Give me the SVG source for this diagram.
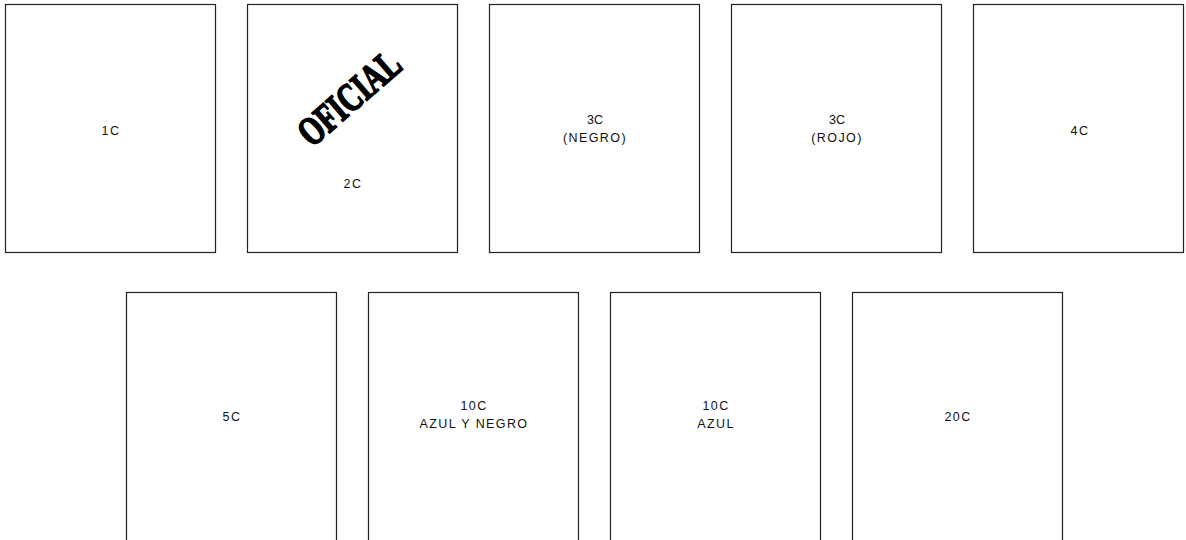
<svg xmlns="http://www.w3.org/2000/svg" width="1186" height="540" viewBox="0 0 1186 540">
<style>
.box{fill:#fff;stroke:#222;stroke-width:1.2}
.lbl{font-family:"Liberation Sans",Arial,sans-serif;font-size:12.5px;fill:#111;text-anchor:middle;letter-spacing:1.4px}
.stamp{font-family:"Liberation Serif","Times New Roman",serif;font-weight:bold;font-size:31px;fill:#000;stroke:#000;stroke-width:1.4;text-anchor:middle}
</style>
<rect width="1186" height="540" fill="#fff"/>
<g id="n1c"><rect class="box" x="5.5" y="4.5" width="210" height="248"/><text class="lbl" x="111" y="135">1C</text></g>
<g id="n2c"><rect class="box" x="247.5" y="4.5" width="210" height="248"/><text class="stamp" transform="translate(358,108) rotate(-41) scale(0.92,1.3)">OFICIAL</text><text class="lbl" x="353" y="188">2C</text></g>
<g id="n3cn"><rect class="box" x="489.5" y="4.5" width="210" height="248"/><text class="lbl" x="595" y="124" style="letter-spacing:0">3C</text><text class="lbl" x="595" y="142">(NEGRO)</text></g>
<g id="n3cr"><rect class="box" x="731.5" y="4.5" width="210" height="248"/><text class="lbl" x="837" y="124" style="letter-spacing:0">3C</text><text class="lbl" x="837" y="142">(ROJO)</text></g>
<g id="n4c"><rect class="box" x="973.5" y="4.5" width="210" height="248"/><text class="lbl" x="1080" y="135">4C</text></g>
<g id="n5c"><rect class="box" x="126.5" y="292.5" width="210" height="260"/><text class="lbl" x="232" y="421">5C</text></g>
<g id="n10can"><rect class="box" x="368.5" y="292.5" width="210" height="260"/><text class="lbl" x="474" y="410">10C</text><text class="lbl" x="474" y="428">AZUL Y NEGRO</text></g>
<g id="n10ca"><rect class="box" x="610.5" y="292.5" width="210" height="260"/><text class="lbl" x="716" y="410">10C</text><text class="lbl" x="716" y="428">AZUL</text></g>
<g id="n20c"><rect class="box" x="852.5" y="292.5" width="210" height="260"/><text class="lbl" x="958" y="421">20C</text></g>
<g id="connectors"></g>
</svg>
